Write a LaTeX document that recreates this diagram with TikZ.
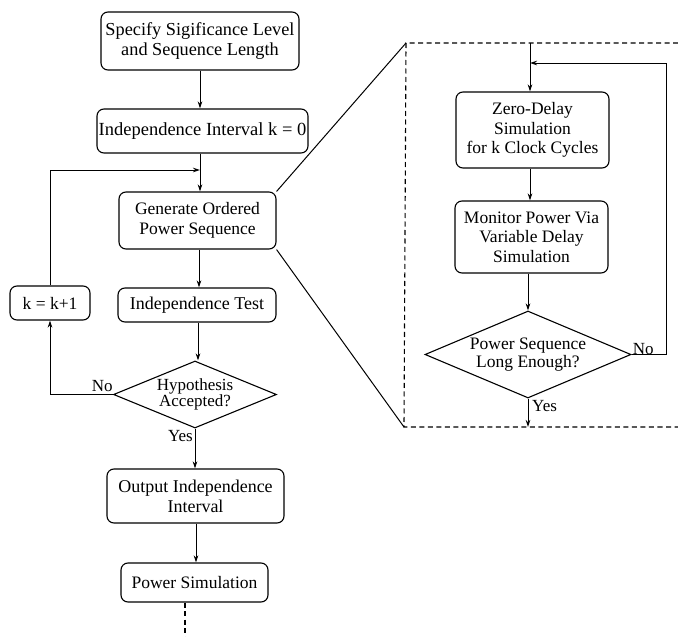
\documentclass[tikz,border=0pt]{standalone}
\usepackage{fontspec}
\setmainfont{Liberation Serif}
\usetikzlibrary{shapes.geometric,arrows.meta}
\begin{document}
\begin{tikzpicture}[x=1pt,y=-1pt,
  box/.style={draw,rounded corners=7pt,line width=1.1pt,align=center,inner sep=1pt,
    font=\fontsize{17.5}{20}\selectfont},
  dec/.style={draw,diamond,line width=1.1pt,align=center,inner sep=0pt},
  con/.style={line width=1pt},
  arr/.style={con,-{Stealth[length=7pt,width=4.5pt]}},
  dsh/.style={line width=1.1pt,dash pattern=on 5pt off 3.5pt},
  lbl/.style={inner sep=1pt,font=\fontsize{17}{19}\selectfont}]
\useasboundingbox (0,0) rectangle (678,637);
% left column
\node[box,minimum width=198pt,minimum height=58pt,font=\fontsize{18.3}{20}\selectfont] (b1) at (200,41)
  {Specify Sigificance Level\\and Sequence Length};
\node[box,minimum width=211pt,minimum height=44pt,font=\fontsize{18.5}{20}\selectfont] (b2) at (202.5,131)
  {Independence Interval k = 0};
\node[box,minimum width=157pt,minimum height=57pt] (b3) at (197.5,220.5)
  {Generate Ordered\\Power Sequence};
\node[box,minimum width=80pt,minimum height=34pt] (kb) at (50,303)
  {k = k+1};
\node[box,minimum width=158pt,minimum height=34pt,font=\fontsize{18}{20}\selectfont] (b4) at (197,305)
  {Independence Test};
\node[dec,aspect=2.43,minimum width=163pt,minimum height=67pt,font=\fontsize{17}{12.5}\selectfont] (d1) at (195,394.5)
  {Hypothesis\\Accepted?};
\node[box,minimum width=177pt,minimum height=54pt,font=\fontsize{18}{20}\selectfont] (b5) at (195.5,496)
  {Output Independence\\Interval};
\node[box,minimum width=147pt,minimum height=39pt] (b6) at (194.5,582.5)
  {Power Simulation};
\coordinate (j1) at (200,170);
\coordinate (c199) at (199,0);
\coordinate (c198) at (198,0);
\coordinate (c196) at (196,0);
\coordinate (kl) at (50,394.5);
\coordinate (e1) at (185,637);
\draw[arr] (b1.south -| j1) -- (b2.north -| j1);
\draw[arr] (b2.south -| j1) -- (b3.north -| j1);
\draw[arr] (b3.south -| c199) -- (b4.north -| c199);
\draw[arr] (b4.south -| c198) -- (d1.north -| c198);
\draw[arr] (d1.south) -- (b5.north -| d1.south);
\draw[arr] (b5.south -| c196) -- (b6.north -| c196);
\draw[dsh] (b6.south -| e1) -- (e1);
\draw[arr] (d1.west) -- (kl) -- (kb.south);
\draw[arr] (kb.north) -- (kb.north |- j1) -- (j1);
\node[lbl,anchor=south east] at ([xshift=1pt,yshift=2pt]d1.west) {No};
\node[lbl,anchor=north east] at ([xshift=-1pt,yshift=-1pt]d1.south) {Yes};
% right panel
\coordinate (tl) at (406,43);
\coordinate (bl) at (404,427);
\coordinate (tr) at (678,43);
\coordinate (br) at (678,427);
\draw[dsh] (tr) -- (tl) -- (bl) -- (br);
\draw[con] (b3.north east) -- (tl);
\draw[con] (b3.south east) -- (bl);
\node[box,minimum width=153pt,minimum height=76pt,font=\fontsize{17.5}{19.5}\selectfont] (z) at (532.5,130)
  {Zero-Delay\\Simulation\\for k Clock Cycles};
\node[box,minimum width=153pt,minimum height=72pt,font=\fontsize{17.5}{19.5}\selectfont] (m) at (531.5,237)
  {Monitor Power Via\\Variable Delay\\Simulation};
\node[dec,aspect=2.37,minimum width=206pt,minimum height=87pt,font=\fontsize{17.5}{18}\selectfont] (d2) at (528,354.5)
  {Power Sequence\\Long Enough?};
\coordinate (j2) at (530,63);
\coordinate (fr) at (666,63);
\draw[arr] (tl -| j2) -- (z.north -| j2);
\draw[arr] (z.south -| j2) -- (m.north -| j2);
\draw[arr] (m.south -| d2.north) -- (d2.north);
\draw[arr] (d2.south) -- (d2.south |- bl);
\draw[arr] (d2.east) -- (d2.east -| fr) -- (fr) -- (j2);
\node[lbl,anchor=south west] at ([yshift=-1pt]d2.east) {No};
\node[lbl,anchor=north west] at ([xshift=3pt,yshift=-1pt]d2.south) {Yes};
\end{tikzpicture}
\end{document}
